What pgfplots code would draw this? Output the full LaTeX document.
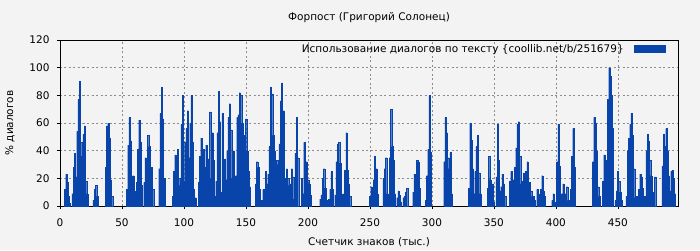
\documentclass[border=0pt]{standalone}
\usepackage{fontspec}
\setmainfont{DejaVu Sans}
\usepackage{pgfplots}
\usepackage{pgfplotstable}
\pgfplotsset{compat=1.18}
\definecolor{bgc}{RGB}{243,243,243}
\definecolor{barblue}{RGB}{8,68,170}
\pgfplotstableread{
x y
4 12
5 23
6 17
7 7
8 2
10 9
11 28
12 38
13 21
14 54
15 77
16 90
17 46
18 36
19 52
20 58
21 18
22 9
27 4
28 12
29 15
30 7
37 28
38 58
39 60
40 49
41 19
42 7
54 12
55 44
56 64
57 47
58 16
59 22
60 11
62 17
63 41
64 62
65 46
66 15
68 17
69 35
70 26
71 51
72 43
73 23
74 28
75 12
80 27
81 67
82 86
83 63
84 20
91 7
92 25
93 37
94 30
95 41
96 20
97 15
98 59
99 80
100 46
101 18
102 56
103 69
104 35
105 60
106 80
107 46
108 12
109 6
112 17
113 36
114 49
115 28
116 41
117 28
118 44
119 11
120 34
121 68
122 20
123 53
124 33
125 7
126 18
127 53
128 83
129 61
130 10
131 67
132 12
133 34
134 19
135 40
136 64
137 74
138 55
139 20
140 40
141 20
142 22
143 64
144 66
145 82
146 80
147 60
148 25
149 51
150 63
151 40
152 25
153 14
158 16
159 32
160 28
161 12
163 4
164 12
165 11
166 25
167 16
168 23
169 43
170 86
171 81
172 51
173 40
174 12
175 33
176 30
177 45
178 76
179 89
180 69
181 20
182 11
183 27
184 20
185 15
186 16
187 27
188 21
189 5
190 38
191 64
192 35
195 20
196 9
197 46
198 9
199 32
200 19
201 16
202 8
210 5
211 8
212 20
213 27
214 13
215 4
217 5
218 12
219 25
220 12
222 8
223 32
224 45
225 46
226 31
227 9
229 9
230 26
231 53
232 26
233 16
234 7
250 7
251 14
252 10
253 19
254 36
255 27
256 9
261 20
262 27
263 35
264 9
266 35
267 70
268 43
269 33
270 9
272 6
273 11
274 8
275 3
277 6
278 7
279 10
280 13
285 10
286 23
287 21
288 33
289 32
290 13
295 4
296 22
297 41
298 80
299 39
310 32
311 64
312 53
313 35
314 27
315 39
316 9
330 13
331 60
332 48
333 27
334 9
335 25
336 43
337 51
338 24
339 9
345 13
346 36
347 19
348 8
349 16
350 3
352 21
353 59
354 33
355 11
356 14
357 23
358 16
359 7
363 18
364 25
365 12
366 19
367 28
368 42
369 59
370 61
371 36
372 16
373 18
374 24
375 18
376 25
377 32
378 7
379 17
380 11
381 7
382 7
383 4
385 12
386 9
387 6
388 12
389 22
390 11
391 7
397 4
398 9
399 3
401 32
402 59
403 29
404 4
405 9
406 16
407 4
408 9
409 14
410 4
411 4
412 12
413 36
414 56
415 28
430 32
431 64
432 60
433 40
434 14
435 7
438 18
439 37
440 33
441 22
442 77
443 100
444 94
445 80
446 56
448 4
449 11
450 25
451 18
452 10
453 4
457 7
458 40
459 49
460 59
461 67
462 51
463 27
464 6
465 7
467 12
468 23
469 21
470 13
472 7
473 40
474 52
475 47
476 33
477 22
478 9
479 10
480 21
486 29
487 52
488 43
489 56
490 40
491 22
492 11
493 25
494 26
495 20
496 9
}\datatable
\begin{document}
\begin{tikzpicture}
\fill[bgc] (-60pt,-44pt) rectangle (640pt,206pt);
\useasboundingbox (-60pt,-44pt) rectangle (640pt,206pt);
\begin{axis}[
  at={(0pt,0pt)}, anchor=south west,
  scale only axis, width=618pt, height=166pt,
  xmin=0, xmax=498.5, ymin=0, ymax=120,
  xtick={0,50,...,450}, ytick={0,20,...,120},
  grid=major,
  major grid style={draw=black!45, dash pattern=on 2pt off 2.5pt, line width=0.6pt},
  tick align=outside, tick pos=left, major tick length=3pt,
  tick style={black, line width=0.6pt},
  axis line style={black, line width=0.9pt},
  /pgf/number format/assume math mode=true,
  tick label style={font=\fontsize{10.5}{12}\selectfont},
  xticklabel style={yshift=-6pt},
  yticklabel style={xshift=-4pt},
  label style={font=\fontsize{10.5}{12}\selectfont},
  title style={font=\fontsize{10.5}{12}\selectfont, at={(axis description cs:0.5,1.08)}, anchor=base},
  title={Форпост (Григорий Солонец)},
  xlabel={Счетчик знаков (тыс.)},
  xlabel style={at={(axis description cs:0.5,-0.235)}, anchor=base},
  ylabel={\% диалогов},
  ylabel style={at={(axis description cs:-0.081,0.5)}, anchor=center, rotate=0},
  legend style={at={(axis description cs:1,1)}, anchor=north east, xshift=-11pt, draw=none, fill=none,
    font=\fontsize{10.5}{12}\selectfont, inner sep=2pt},
  legend plot pos=right,
  legend cell align=right,
  legend image code/.code={\path (0pt,0pt); \fill[barblue] (8pt,-3.5pt) rectangle (39pt,3.5pt);},
]
\addplot[ybar, bar width=1, bar shift=0pt, fill=barblue, draw=barblue, line width=0.1pt]
  table[x=x, y=y] {\datatable};
\addlegendentry{Использование диалогов по тексту \{coollib.net/b/251679\}}
\end{axis}
\end{tikzpicture}
\end{document}
